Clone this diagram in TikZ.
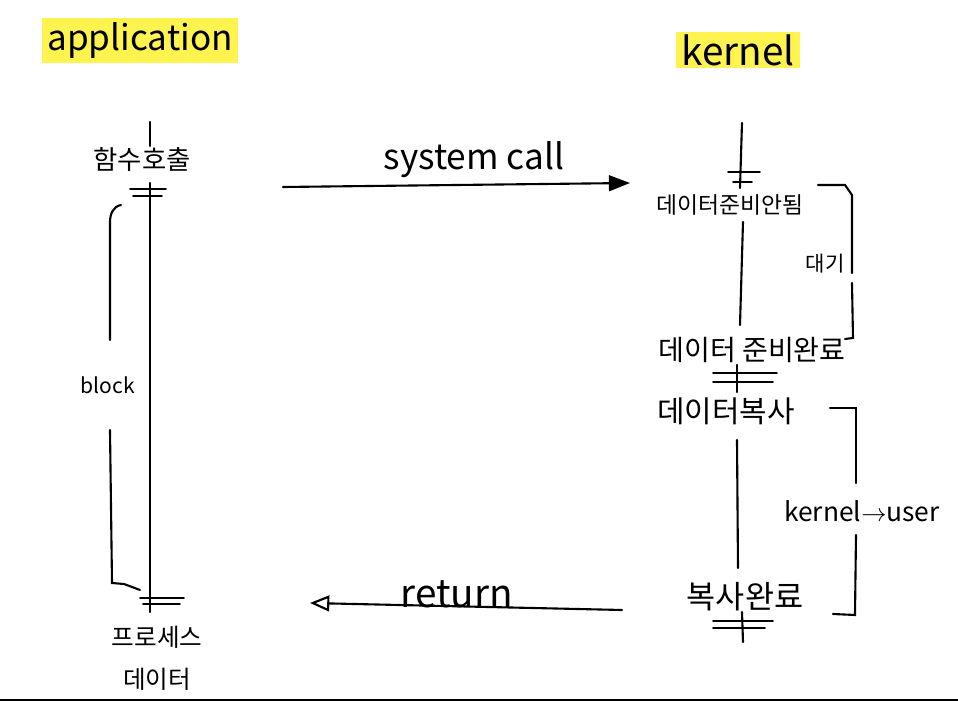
\documentclass[tikz,border=0pt]{standalone}
\usepackage{fontspec}
\setmainfont{Noto Sans CJK KR}
\usetikzlibrary{arrows.meta,positioning}
\definecolor{hlyellow}{RGB}{255,243,80}

\begin{document}
\begin{tikzpicture}[x=0.02cm,y=-0.02cm,
		hl/.style={fill=hlyellow,inner xsep=3pt,inner ysep=1pt,minimum height=0.9cm},
		pen/.style={line width=1.2pt,line cap=round},
		tick/.style={line width=1pt,line cap=round}]
		\useasboundingbox (0,0) rectangle (958,702);
		\begin{scope}
			% titles
			\node(app) [hl,font=\fontsize{20}{22}\selectfont] at (140,41) {application};
			\node(kern) [hl,font=\fontsize{22}{24}\selectfont,minimum height=0.72cm] at (738,50) {kernel};
			% application side
			\node(call) [font=\fontsize{15}{17}\selectfont] at (142,160) {함수호출};
			\node(proc) [font=\fontsize{14}{24}\selectfont,align=center] at (157,658) {프로세스\\데이터};
			\node(block) [font=\fontsize{12}{14}\selectfont] at (108,385) {block};
			\coordinate (a1) at (150,122);
			\coordinate (a2) at (150,146);
			\coordinate (a3) at (150,183);
			\coordinate (a4) at (150,612);
			\draw[pen] (a1) -- (a2) (a3) -- (a4);
			\draw[tick] (130,189) -- (166,189) (133,196) -- (162,196);
			\draw[tick] (140,598) -- (184,598) (143,604) -- (180,604);
			\draw[pen] (121,205) to[out=190,in=90] (110,222) -- (110,340);
			\draw[pen] (110,430) -- (112,583) -- (124,584) -- (140,590);
			% kernel side
			\node(nr) [font=\fontsize{13}{15}\selectfont] at (730,205) {데이터준비안됨};
			\node(rd) [font=\fontsize{16}{18}\selectfont] at (752,350) {데이터 준비완료};
			\node(cp) [font=\fontsize{17}{19}\selectfont] at (726,411) {데이터복사};
			\node(done) [font=\fontsize{18}{20}\selectfont] at (745,597) {복사완료};
			\node(wait) [font=\fontsize{12}{14}\selectfont] at (825,264) {대기};
			\node(k2u) [font=\fontsize{15}{17}\selectfont] at (862,511) {kernel$\rightarrow$user};
			\draw[pen] (742,123) -- (740,188);
			\draw[tick] (728,172) -- (760,172) (733,182) -- (752,182);
			\draw[pen] (743,222) -- (740,325);
			\draw[pen] (737,365) -- (737,392);
			\draw[tick] (713,373) -- (777,373) (713,382) -- (773,382);
			\draw[pen] (737,440) -- (738,568);
			\draw[pen] (742,612) -- (743,642);
			\draw[tick] (713,621) -- (773,621) (713,628) -- (765,628);
			% brackets
			\draw[pen] (818,185) -- (845,185) -- (852,195) -- (852,273);
			\draw[pen] (852,283) -- (853,338) -- (845,339);
			\draw[pen] (830,408) -- (856,408) -- (856,483);
			\draw[pen] (856,535) -- (855,615) -- (833,614);
			% calls
			\coordinate (scs) at (283,187);
			\coordinate (sce) at (630,183);
			\coordinate (rts) at (622,610);
			\coordinate (rte) at (310,603);
			\path[pen,-{Triangle[length=12pt,width=9pt]}]
				(scs) edge node [pos=0.55,above=0pt,font=\fontsize{20}{22}\selectfont] {system call} (sce);
			\path[pen,-{Triangle[open,length=11pt,width=9pt]}]
				(rts) edge node [pos=0.53,above=-5pt,font=\fontsize{22}{24}\selectfont] {return} (rte);
			% bottom edge
			\draw[line width=0.8pt] (0,700) -- (958,700);
		\end{scope}
	\end{tikzpicture}
\end{document}
